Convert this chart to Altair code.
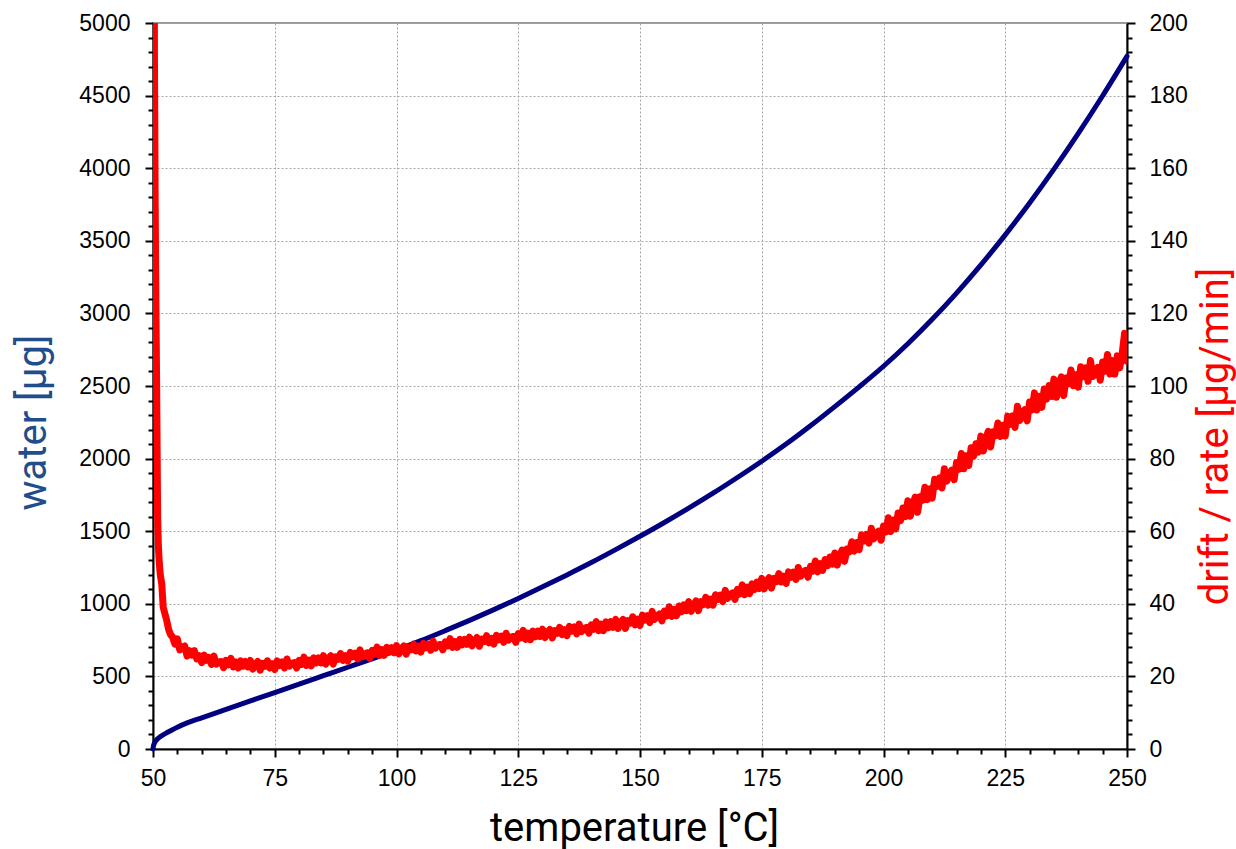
import altair as alt
import pandas as pd

# ---- data ----
blue_temp = [50, 50.1, 50.3, 50.6, 51, 51.5, 52, 53, 54, 55, 57, 60, 65, 70, 75, 80, 85, 90, 95,
             100, 105, 110, 115, 120, 125, 130, 135, 140, 145, 150, 155, 160, 165, 170, 175, 180,
             185, 190, 195, 200, 205, 210, 215, 220, 225, 230, 235, 240, 245, 250]
blue_water = [0, 22, 40, 57, 72, 85, 96, 115, 133, 150, 180, 215, 273, 331, 389, 447, 505, 563, 621,
              681, 746, 815, 886, 960, 1037, 1117, 1199, 1284, 1373, 1465, 1560, 1659, 1762, 1870, 1982, 2100,
              2226, 2358, 2494, 2636, 2791, 2959, 3140, 3334, 3541, 3761, 3994, 4240, 4499, 4771]

# steep start of the drift curve
red_start_temp = [50.2, 50.3, 50.45, 50.6, 50.75, 50.85, 50.95, 51.1, 51.3, 51.5, 51.8, 52.1, 52.4,
                  52.8, 53.2, 53.6]
red_start_rate = [260, 190, 150, 122, 100, 82, 64, 56, 51, 48, 45.5, 39, 37.5, 35.5, 33, 31.5]

# noisy drift readings every 0.5 degC from 54 to 250 (10 readings per row = 5 degC)
red_noisy_rate = [
    30.9, 28.9, 30.3, 27.3, 28.0, 28.4, 25.6, 27.1, 25.9, 27.1,        # 54
    24.8, 25.7, 23.8, 25.9, 24.4, 25.2, 23.3, 25.6, 23.4, 24.0,        # 59
    24.1, 22.4, 24.4, 23.2, 25.0, 22.6, 24.0, 22.3, 24.3, 22.8,        # 64
    24.1, 22.6, 24.4, 22.0, 23.3, 24.1, 21.7, 23.6, 22.8, 24.3,        # 69
    22.3, 23.5, 21.9, 24.3, 23.0, 24.0, 22.3, 24.8, 22.8, 23.6,        # 74
    23.8, 22.3, 24.4, 23.3, 25.3, 23.0, 24.5, 22.9, 25.1, 23.7,        # 79
    25.1, 23.7, 25.7, 23.4, 24.8, 25.7, 23.4, 25.4, 24.7, 26.3,        # 84
    24.4, 25.7, 24.2, 26.6, 25.4, 26.4, 24.8, 27.3, 25.4, 26.2,        # 89
    26.5, 25.0, 27.2, 26.1, 28.1, 25.8, 27.4, 25.8, 28.0, 26.6,        # 94
    27.9, 26.5, 28.5, 26.2, 27.5, 28.4, 26.1, 28.1, 27.3, 28.9,        # 99
    27.0, 28.3, 26.7, 29.1, 27.9, 28.9, 27.2, 29.7, 27.8, 28.6,        # 104
    28.8, 27.3, 29.5, 28.4, 30.4, 28.0, 29.6, 28.0, 30.2, 28.7,        # 109
    30.2, 28.8, 30.8, 28.4, 29.8, 30.7, 28.3, 30.3, 29.6, 31.2,        # 114
    29.2, 30.5, 28.9, 31.3, 30.1, 31.1, 29.4, 31.9, 30.0, 30.8,        # 119
    31.0, 29.4, 31.8, 30.6, 32.7, 30.2, 31.9, 30.1, 32.5, 30.9,        # 124
    32.5, 31.0, 33.0, 30.7, 32.1, 32.9, 30.6, 32.6, 31.9, 33.5,        # 129
    31.5, 32.9, 31.2, 33.8, 32.5, 33.6, 31.7, 34.4, 32.3, 33.2,        # 134
    33.5, 31.9, 34.2, 33.0, 35.1, 32.6, 34.4, 32.6, 35.0, 33.4,        # 139
    35.1, 33.5, 35.7, 33.2, 34.7, 35.7, 33.2, 35.4, 34.7, 36.4,        # 144
    34.2, 35.8, 34.0, 36.9, 35.5, 36.7, 34.8, 37.9, 35.7, 36.7,        # 149
    37.2, 35.3, 38.0, 36.7, 39.2, 36.5, 38.5, 36.7, 39.4, 37.8,        # 154
    39.7, 38.1, 40.6, 37.9, 39.6, 40.8, 38.1, 40.6, 39.8, 41.8,        # 159
    39.6, 41.3, 39.6, 42.5, 41.2, 42.4, 40.6, 43.7, 41.5, 42.5,        # 164
    43.0, 41.2, 44.0, 42.7, 45.2, 42.5, 44.6, 42.8, 45.5, 43.9,        # 169
    46.0, 44.2, 47.0, 44.1, 46.0, 47.2, 44.3, 47.0, 46.1, 48.3,        # 174
    46.0, 47.6, 45.6, 48.8, 47.3, 48.7, 46.7, 50.0, 47.6, 48.7,        # 179
    49.2, 47.3, 50.3, 49.0, 51.8, 48.8, 51.1, 49.2, 52.2, 50.5,        # 184
    52.9, 50.9, 54.0, 50.7, 53.1, 54.8, 51.7, 55.1, 54.3, 57.1,        # 189
    54.5, 56.9, 54.9, 59.0, 57.3, 59.1, 56.7, 60.8, 57.9, 59.4,        # 194
    60.0, 57.5, 61.4, 59.8, 63.7, 59.9, 63.1, 60.6, 65.0, 62.9,        # 199
    66.4, 64.0, 68.4, 64.1, 67.2, 69.4, 65.2, 69.5, 68.5, 72.1,        # 204
    68.7, 71.7, 69.1, 74.3, 72.3, 74.7, 71.9, 77.2, 73.8, 75.8,        # 209
    76.8, 74.2, 78.9, 77.1, 81.4, 77.2, 80.8, 78.1, 83.0, 80.7,        # 214
    84.1, 81.8, 86.2, 82.1, 85.4, 87.5, 83.2, 87.4, 86.3, 89.8,        # 219
    86.1, 89.2, 86.2, 91.7, 89.4, 91.8, 88.6, 94.4, 90.5, 92.5,        # 224
    93.5, 90.4, 95.6, 93.4, 98.1, 93.4, 97.2, 94.1, 99.2, 96.4,        # 229
    100.1, 97.1, 101.9, 96.9, 100.3, 102.5, 97.4, 102.2, 100.6, 104.4, # 234
    100.1, 103.1, 99.7, 105.3, 102.6, 105.0, 101.3, 107.0, 102.6, 104.4, # 239
    105.1, 101.6, 106.6, 104.1, 108.7, 103.3, 107.0, 103.3, 108.3, 105.0, # 244
    108.9, 114.5, 106.8,                                                  # 249 - 250
]
red_noisy_temp = [54 + 0.5 * i for i in range(len(red_noisy_rate))]   # sampling grid

red_temp = red_start_temp + red_noisy_temp
red_rate = red_start_rate + red_noisy_rate

x_ticks = list(range(50, 251, 5))       # major every 25
yl_ticks = list(range(0, 5001, 100))    # major every 500
yr_ticks = list(range(0, 201, 4))       # major every 20

water_df = pd.DataFrame({"temperature": blue_temp, "water": blue_water})
drift_df = pd.DataFrame({"temperature": red_temp, "rate": red_rate})

LABEL_FONT = "Liberation Sans"
TITLE_FONT = "Roboto"
LBL = 23
TTL = 40


def cond(test, a, b):
    return {"condition": {"test": test, "value": a}, "value": b}


x_axis = alt.Axis(
    orient="bottom",
    values=x_ticks,
    labelExpr="datum.value % 25 === 0 ? datum.label : ''",
    tickSize=cond("datum.value % 25 === 0", 8, 5),
    grid=True,
    gridOpacity=cond("datum.value % 25 === 0", 1, 0),
    gridDash=[2, 2], gridColor="#a6a6a6", gridWidth=1,
    domainColor="black", domainWidth=2, tickColor="black", tickWidth=2,
    labelFont=LABEL_FONT, labelFontSize=LBL, labelColor="black", labelPadding=10,
    labelOverlap=False, labelFlush=False,
    title="temperature [°C]", titleFont=TITLE_FONT, titleFontSize=TTL, titleFontWeight="normal",
    titleColor="black", titleX=481, titleY=91, titleBaseline="alphabetic",
)

yl_axis = alt.Axis(
    orient="left",
    values=yl_ticks,
    labelExpr="datum.value % 500 === 0 ? datum.label : ''",
    format="d",
    tickSize=cond("datum.value % 500 === 0", 8, 5),
    grid=True,
    gridOpacity=cond("datum.value % 500 === 0", 1, 0),
    gridDash=[2, 2], gridColor="#a6a6a6", gridWidth=1,
    domainColor="black", domainWidth=2, tickColor="black", tickWidth=2,
    labelFont=LABEL_FONT, labelFontSize=LBL, labelColor="black", labelPadding=15,
    labelOverlap=False, labelFlush=False,
    title="water [µg]", titleFont=TITLE_FONT, titleFontSize=TTL, titleFontWeight="normal",
    titleColor="#1f4e8a", titleAngle=270, titleX=-108, titleY=399, titleBaseline="alphabetic",
    titleAlign="center",
)

yr_axis = alt.Axis(
    orient="right",
    values=yr_ticks,
    labelExpr="datum.value % 20 === 0 ? datum.label : ''",
    tickSize=cond("datum.value % 20 === 0", 8, 5),
    grid=False,
    domainColor="black", domainWidth=2, tickColor="black", tickWidth=2,
    labelFont=LABEL_FONT, labelFontSize=LBL, labelColor="black", labelPadding=14,
    labelOverlap=False, labelFlush=False,
    title="drift / rate [µg/min]", titleFont=TITLE_FONT, titleFontSize=TTL, titleFontWeight="normal",
    titleColor="#ff0000", titleAngle=270, titleX=100, titleY=413, titleBaseline="alphabetic",
    titleAlign="center",
)

x_scale = alt.Scale(domain=[50, 250], nice=False, zero=False)

blue = alt.Chart(water_df).mark_line(
    color="#000080", strokeWidth=5, interpolate="monotone", strokeCap="round", strokeJoin="round"
).encode(
    x=alt.X("temperature:Q", scale=x_scale, axis=x_axis),
    y=alt.Y("water:Q", scale=alt.Scale(domain=[0, 5000], nice=False), axis=yl_axis),
)

red = alt.Chart(drift_df).mark_line(
    color="#ff0000", strokeWidth=7, clip=True, strokeCap="round", strokeJoin="round"
).encode(
    x=alt.X("temperature:Q", scale=x_scale, axis=x_axis),
    y=alt.Y("rate:Q", scale=alt.Scale(domain=[0, 200], nice=False), axis=yr_axis),
)

chart = alt.layer(blue, red).resolve_scale(y="independent").properties(
    width=974, height=726,
    autosize=alt.AutoSizeParams(type="none"),
    padding={"left": 153, "top": 23, "right": 109, "bottom": 100},
    background="white",
).configure_view(stroke="#999999", strokeWidth=2)

chart.save("out.html", embed_options={"renderer": "svg", "actions": False})
